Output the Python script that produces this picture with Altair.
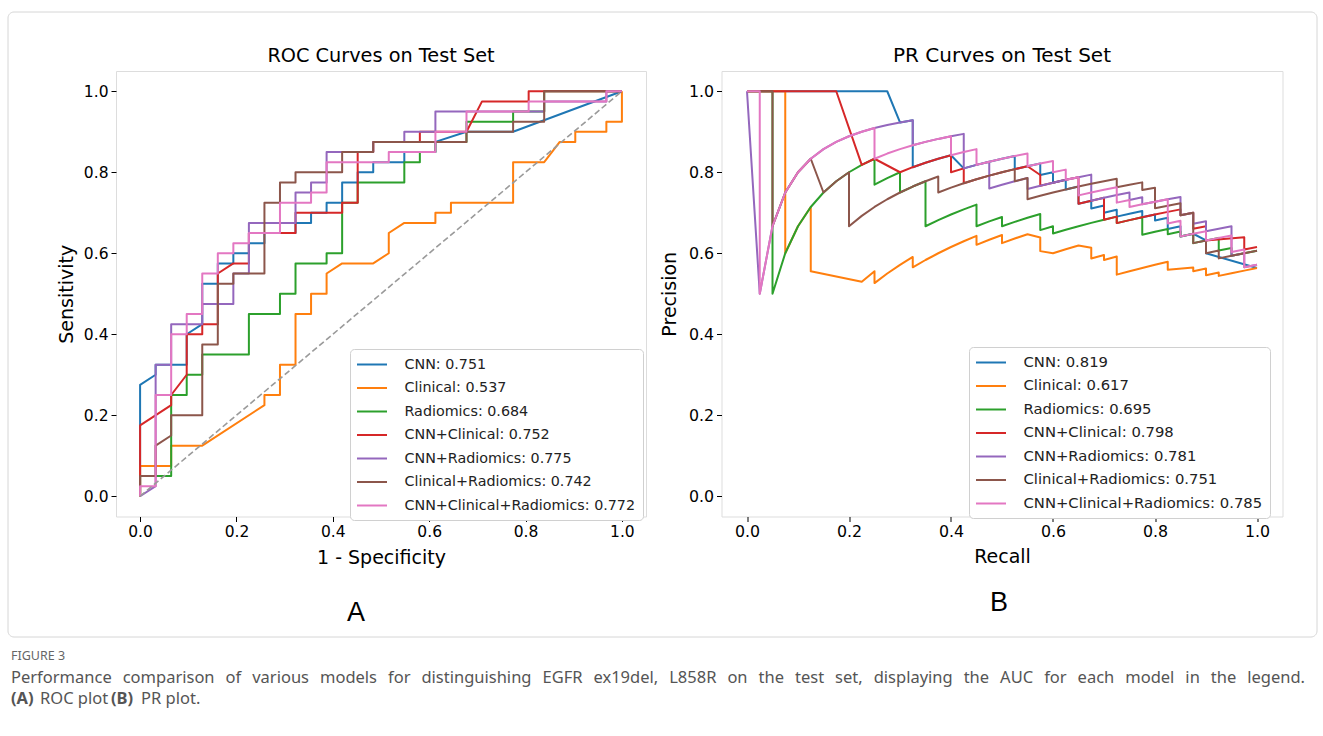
import altair as alt
import pandas as pd

# test-set sizes read from the step heights of the ROC curves
N_POS = 40   # TPR steps of 0.025
N_NEG = 31   # FPR steps of ~0.032

MODELS = ["CNN", "Clinical", "Radiomics", "CNN+Clinical", "CNN+Radiomics",
          "Clinical+Radiomics", "CNN+Clinical+Radiomics"]
ROC_AUC = ["0.751", "0.537", "0.684", "0.752", "0.775", "0.742", "0.772"]
PR_AUC = ["0.819", "0.617", "0.695", "0.798", "0.781", "0.751", "0.785"]
COLORS = ["#1f77b4", "#ff7f0e", "#2ca02c", "#d62728", "#9467bd", "#8c564b", "#e377c2"]
TICKS = [0.0, 0.2, 0.4, 0.6, 0.8, 1.0]

# ROC corner points, as (false positives, true positives) counts
STEPS_CNN = [(0, 0), (0, 11), (1, 12), (1, 13), (3, 13), (3, 16), (4, 17), (4, 21), (5, 21),
             (5, 23), (6, 23), (6, 24), (7, 24), (7, 25), (8, 25), (8, 26), (10, 26), (10, 27),
             (11, 27), (11, 28), (12, 28), (12, 29), (13, 29), (13, 31), (14, 31), (14, 32),
             (15, 32), (15, 33), (17, 33), (17, 34), (19, 34), (19, 35), (21, 36), (24, 36),
             (31, 40)]
STEPS_CLIN = [(0, 0), (0, 3), (2, 3), (2, 5), (4, 5), (8, 9), (8, 10), (9, 10), (9, 13), (10, 13),
              (10, 18), (11, 18), (11, 20), (12, 20), (12, 22), (13, 23), (15, 23), (16, 24),
              (16, 26), (17, 27), (19, 27), (19, 28), (20, 28), (20, 29), (24, 29), (24, 33),
              (26, 33), (27, 35), (28, 35), (28, 36), (30, 36), (30, 37), (31, 37), (31, 40)]
STEPS_RAD = [(0, 0), (0, 2), (2, 2), (2, 10), (3, 10), (3, 12), (4, 12), (4, 14), (7, 14), (7, 18),
             (9, 18), (9, 20), (10, 20), (10, 23), (12, 23), (12, 24), (13, 24), (13, 29), (14, 29),
             (14, 31), (17, 31), (17, 33), (18, 33), (18, 34), (19, 34), (19, 35), (21, 35),
             (21, 37), (24, 37), (24, 38), (26, 38), (26, 40), (31, 40)]
STEPS_CNN_CLIN = [(0, 0), (0, 7), (2, 9), (2, 10), (3, 12), (3, 16), (4, 16), (4, 17), (5, 17),
                  (5, 22), (6, 23), (7, 23), (7, 26), (10, 26), (10, 28), (13, 28), (13, 29),
                  (14, 29), (14, 34), (15, 34), (15, 35), (18, 35), (18, 36), (21, 36), (22, 39),
                  (25, 39), (25, 40), (31, 40)]
STEPS_CNN_RAD = [(0, 0), (1, 1), (1, 13), (2, 13), (2, 17), (4, 17), (4, 19), (6, 19), (6, 22),
                 (7, 22), (7, 27), (10, 27), (10, 30), (11, 30), (11, 31), (12, 31), (12, 34),
                 (15, 34), (15, 35), (17, 35), (17, 36), (19, 36), (19, 38), (21, 38), (26, 38),
                 (26, 39), (30, 39), (30, 40), (31, 40)]
STEPS_CLIN_RAD = [(0, 0), (0, 2), (1, 2), (1, 5), (2, 6), (2, 8), (4, 8), (4, 15), (5, 15),
                  (5, 21), (6, 21), (6, 22), (8, 22), (8, 29), (9, 29), (9, 31), (10, 31),
                  (10, 32), (13, 32), (13, 34), (15, 34), (15, 35), (21, 35), (21, 36), (24, 36),
                  (24, 37), (26, 37), (26, 40), (31, 40)]
STEPS_ALL = [(0, 0), (0, 1), (1, 1), (1, 10), (2, 10), (2, 16), (3, 16), (3, 18), (4, 18), (4, 22),
             (5, 22), (5, 24), (6, 24), (6, 25), (7, 25), (7, 26), (9, 26), (9, 29), (11, 29),
             (11, 30), (12, 30), (12, 33), (16, 33), (16, 34), (19, 34), (19, 36), (21, 36),
             (21, 38), (25, 38), (25, 39), (30, 39), (30, 40), (31, 40)]
STEPS = [STEPS_CNN, STEPS_CLIN, STEPS_RAD, STEPS_CNN_CLIN, STEPS_CNN_RAD, STEPS_CLIN_RAD, STEPS_ALL]

# Caption text
FIG_LABEL = "FIGURE 3"
CAPTION_WORDS = ["Performance", "comparison", "of", "various", "models", "for", "distinguishing",
                 "EGFR", "ex19del,", "L858R", "on", "the", "test", "set,", "displaying", "the",
                 "AUC", "for", "each", "model", "in", "the", "legend."]

ROC_LABELS = [f"{m}: {a}" for m, a in zip(MODELS, ROC_AUC)]
PR_LABELS = [f"{m}: {a}" for m, a in zip(MODELS, PR_AUC)]

roc_rows, pr_rows = [], []
for m, rl, pl, steps in zip(MODELS, ROC_LABELS, PR_LABELS, STEPS):
    for k, (fp, tp) in enumerate(steps):
        roc_rows.append(dict(model=m, label=rl, k=k, x=fp / N_NEG, y=tp / N_POS))
    # the same confusion counts, seen as precision / recall (one point per threshold)
    pts = [(0.0, 1.0)]
    pfp, ptp = steps[0]
    for fp, tp in steps[1:]:
        if fp == pfp:
            for t in range(ptp + 1, tp + 1):
                pts.append((t / N_POS, t / (t + fp)))
        else:
            pts.append((tp / N_POS, tp / (tp + fp)))
        pfp, ptp = fp, tp
        if tp == N_POS:
            break
    for k, (r, p) in enumerate(pts):
        pr_rows.append(dict(model=m, label=pl, k=k, x=r, y=p))

roc_df = pd.DataFrame(roc_rows)
pr_df = pd.DataFrame(pr_rows)
one = pd.DataFrame({"a": [0]})
FONT = "DejaVu Sans"
CAP_FONT = "Noto Sans"


def axis(title, pad, lsize=15.5):
    return alt.Axis(values=TICKS, format=".1f", title=title, grid=False, domain=False,
                    tickSize=5, tickColor="#000", tickWidth=1, labelColor="#000",
                    labelFont=FONT, labelFontSize=lsize, labelPadding=3, labelFlush=False,
                    titleFont=FONT, titleFontSize=19, titleFontWeight="normal",
                    titleColor="#000", titlePadding=pad)


def panel(df, labels, xtitle, ytitle, lx, ly, ytpad, lfs, lsize):
    sc = alt.Scale(domain=[-0.05, 1.05], nice=False, zero=False)
    color = alt.Color("label:N", sort=labels,
                      scale=alt.Scale(domain=labels, range=COLORS),
                      legend=alt.Legend(title=None, orient="none", legendX=lx, legendY=ly,
                                        symbolType="M-2,0H2", symbolSize=225,
                                        symbolStrokeWidth=2, symbolOffset=6.5,
                                        labelOffset=24, labelFont=FONT, labelFontSize=lfs,
                                        labelColor="#222", labelLimit=400,
                                        rowPadding=7.5, padding=7,
                                        strokeColor="#d0d0d0", fillColor="white",
                                        cornerRadius=4))
    layers = []
    for m in MODELS:
        layers.append(
            alt.Chart(df[df.model == m]).mark_line(strokeWidth=2, strokeJoin="round").encode(
                x=alt.X("x:Q", scale=sc, axis=axis(xtitle, 8, lsize)),
                y=alt.Y("y:Q", scale=sc, axis=axis(ytitle, ytpad, lsize)),
                order="k:Q",
                color=color,
            )
        )
    return layers


roc_layers = panel(roc_df, ROC_LABELS, "1 - Specificity", "Sensitivity", 234, 278, 7, 14.3, 15.5)
pr_layers = panel(pr_df, PR_LABELS, "Recall", "Precision", 247.5, 276, 9, 14.8, 15.8)

diag_df = pd.DataFrame({"x": [0.0, 1.0], "y": [0.0, 1.0]})
diag = alt.Chart(diag_df).mark_line(color="#9a9a9a", strokeWidth=1.6, strokeDash=[6, 3]).encode(
    x="x:Q", y="y:Q")

border = alt.Chart(one).mark_rect(fillOpacity=0, stroke="#d6d6d6", strokeWidth=1,
                                  cornerRadius=6).encode(
    x=alt.value(-108), x2=alt.value(1201), y=alt.value(-59), y2=alt.value(566))


def txt(s, x, y, size, color="#000", weight="normal", font=FONT, align="left"):
    return alt.Chart(one).mark_text(text=s, font=font, fontSize=size, fontWeight=weight,
                                    color=color, align=align, baseline="middle").encode(
        x=alt.value(x), y=alt.value(y))


GAP = "\u2002\u2009"   # justified caption line: widened word gaps
CS = 16.5
cap = [
    txt(FIG_LABEL, -105, 585, 12.5, "#666", font=CAP_FONT),
    txt(GAP.join(CAPTION_WORDS), -105, 607, CS, "#555", font=CAP_FONT),
    txt("(A)", -105, 628, CS, "#555", "bold", CAP_FONT),
    txt("ROC plot", -76, 628, CS, "#555", font=CAP_FONT),
    txt("(B)", -5, 628, CS, "#555", "bold", CAP_FONT),
    txt("PR plot.", 25, 628, CS, "#555", font=CAP_FONT),
]

left = alt.layer(border, *roc_layers, diag,
                 txt("ROC Curves on Test Set", 265, -15, 19.3, align="center"),
                 txt("A", 240, 542, 27, font="Liberation Sans", align="center"),
                 *cap).properties(width=530, height=445.5)
right = alt.layer(*pr_layers,
                  txt("PR Curves on Test Set", 280.5, -15, 20, align="center"),
                  txt("B", 277.5, 532, 27, font="Liberation Sans", align="center")
                  ).properties(width=561, height=445.5)

chart = alt.hconcat(left, right, spacing=75.5, bounds="flush",
                    padding={"left": 7, "top": 11, "right": 0, "bottom": 0}
                    ).resolve_scale(color="independent").resolve_legend(
    color="independent").configure_view(stroke="#000", strokeWidth=1.1
                                        ).configure(background="white")

chart.save("out.html", embed_options={"renderer": "svg", "actions": False})
